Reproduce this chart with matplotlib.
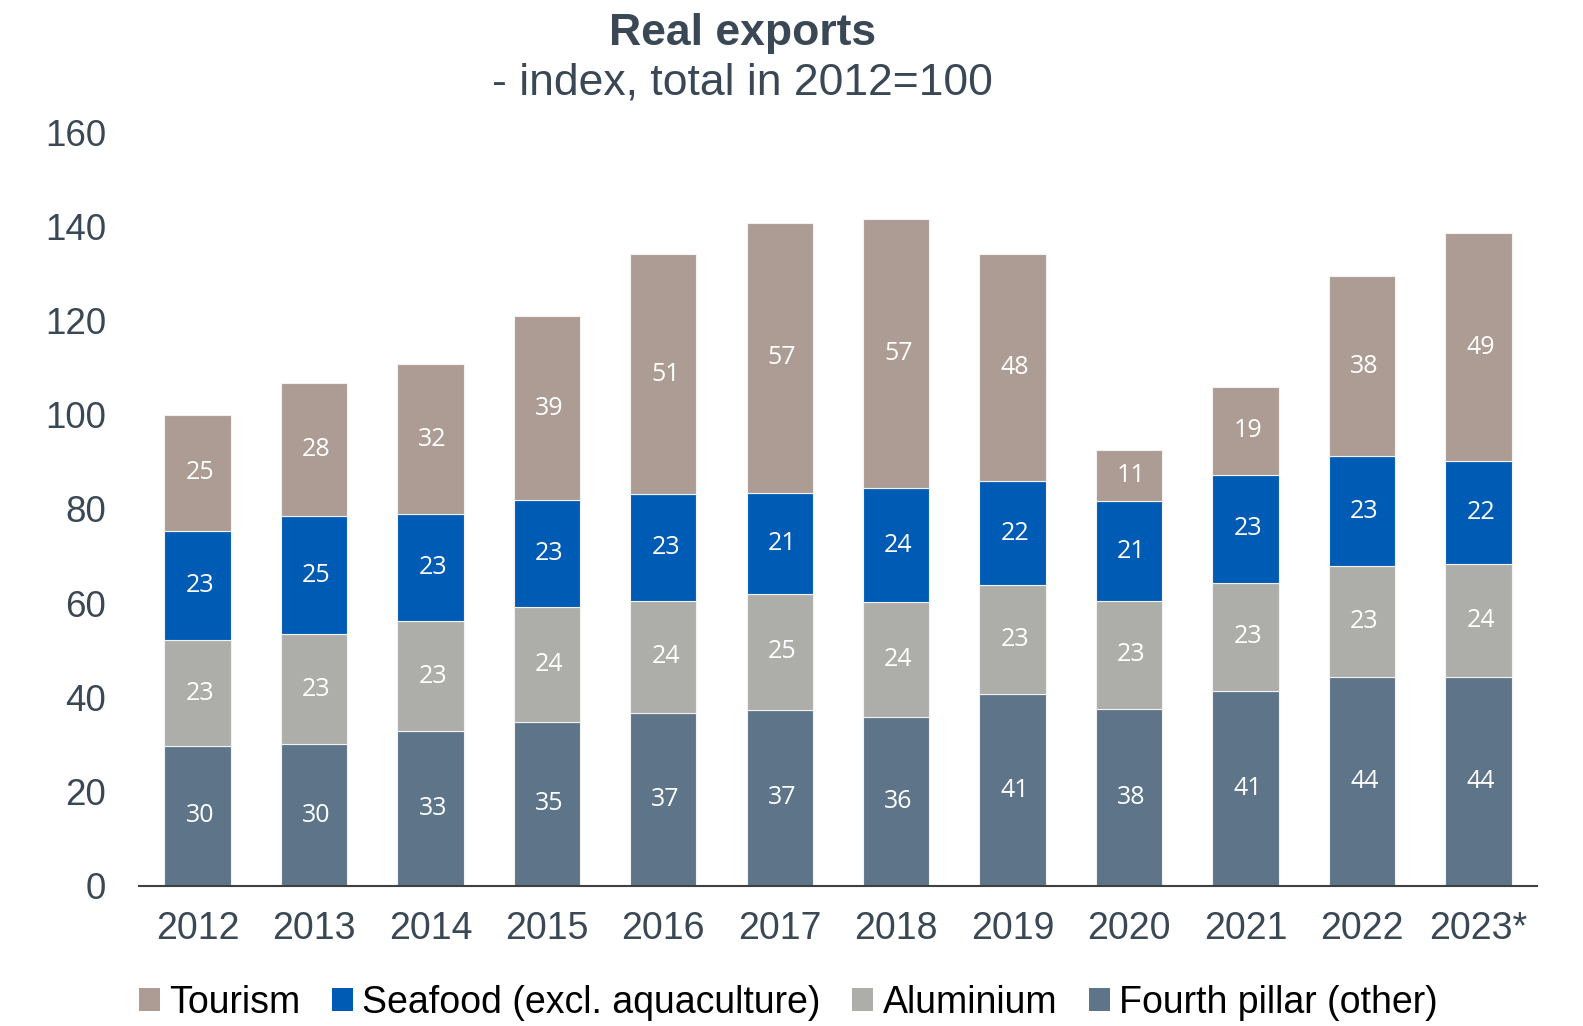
import matplotlib
matplotlib.use("Agg")
import matplotlib.pyplot as plt
from matplotlib.patches import Patch
import numpy as np

# --- Data (index, total in 2012 = 100) ---
years = ['2012', '2013', '2014', '2015', '2016', '2017',
         '2018', '2019', '2020', '2021', '2022', '2023*']
fourth_pillar = [29.6, 30.0, 32.8, 34.7, 36.7, 37.3, 35.8, 40.6, 37.6, 41.4, 44.4, 44.4]
aluminium = [22.6, 23.4, 23.4, 24.4, 23.8, 24.7, 24.4, 23.2, 22.8, 22.9, 23.4, 24.0]
seafood = [23.2, 25.1, 22.7, 22.9, 22.6, 21.4, 24.2, 22.1, 21.2, 23.0, 23.4, 21.7]
tourism = [24.6, 28.3, 31.8, 38.9, 51.0, 57.4, 57.1, 48.2, 10.9, 18.7, 38.3, 48.6]

series = [
    ('Fourth pillar (other)', fourth_pillar, '#5E7589'),
    ('Aluminium', aluminium, '#ADAEA9'),
    ('Seafood (excl. aquaculture)', seafood, '#005BB5'),
    ('Tourism', tourism, '#AC9C93'),
]

text_col = '#3A4855'

fig = plt.figure(figsize=(15.83, 10.26), dpi=100)
ax = fig.add_axes([0.0880, 0.1368, 0.8827, 0.7342])

x = np.arange(len(years))
bottom = np.zeros(len(years))
for name, vals, col in series:
    vals = np.array(vals)
    ax.bar(x, vals, 0.57, bottom=bottom, color=col, edgecolor='#F2F2F2',
           linewidth=0.8, label=name)
    for xi, b, v in zip(x, bottom, vals):
        ax.text(xi + 0.02, b + v / 2, f'{v:.0f}', ha='center', va='center',
                color='white', fontsize=18, family='Open Sans')
    bottom += vals

ax.set_xlim(-0.5, len(years) - 0.5)
ax.set_ylim(0, 160)
ax.set_yticks(range(0, 161, 20))
ax.set_xticks(x)
ax.set_xticklabels(years)

for s in ['top', 'right', 'left']:
    ax.spines[s].set_visible(False)
ax.spines['bottom'].set_color('#404040')
ax.spines['bottom'].set_linewidth(1.5)

ax.tick_params(axis='y', length=0, pad=24, labelsize=26.5, labelcolor=text_col)
ax.tick_params(axis='x', length=0, pad=18, labelsize=27, labelcolor=text_col)
for lab in ax.get_xticklabels() + ax.get_yticklabels():
    lab.set_family('Liberation Sans')

# --- Titles ---
fig.text(0.469, 0.9675, 'Real exports', ha='center', va='center', fontsize=32,
         fontweight='bold', color=text_col, family='Liberation Sans')
fig.text(0.469, 0.919, '- index, total in 2012=100', ha='center', va='center',
         fontsize=32, color=text_col, family='Liberation Sans')

# --- Legend ---
handles = [Patch(facecolor=c, label=n) for n, _, c in
           [series[3], series[2], series[1], series[0]]]
fig.legend(handles=handles, loc='center', bbox_to_anchor=(0.498, 0.0226), ncol=4,
           frameon=False, prop={'family': 'Liberation Sans', 'size': 27},
           handlelength=0.55, handleheight=0.55, handletextpad=0.25,
           columnspacing=0.85, borderpad=0)

fig.savefig('out.png', dpi=100)
